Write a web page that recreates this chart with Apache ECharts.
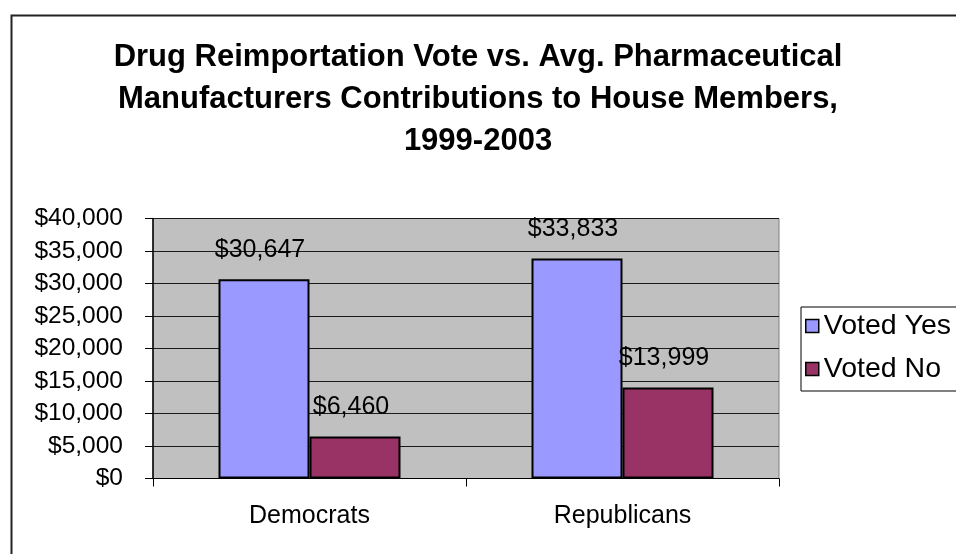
<!DOCTYPE html>
<html>
<head>
<meta charset="utf-8">
<script src="https://cdn.jsdelivr.net/npm/echarts@6/dist/echarts.min.js"></script>
<style>
html,body{margin:0;padding:0;background:#fff;}
#chart{width:956px;height:554px;}
</style>
</head>
<body>
<div id="chart"></div>
<script>
const titleText = "Drug Reimportation Vote vs. Avg. Pharmaceutical\nManufacturers Contributions to House Members,\n1999-2003";
const categories = ["Democrats", "Republicans"];
const seriesNames = ["Voted Yes", "Voted No"];
const votedYes = [30647, 33833];
const votedNo = [6460, 13999];
const yTicks = [0, 5000, 10000, 15000, 20000, 25000, 30000, 35000, 40000];

const FONT = '"Liberation Sans", Arial, sans-serif';
const money = v => '$' + Math.round(v).toString().replace(/\B(?=(\d{3})+(?!\d))/g, ',');

const chart = echarts.init(document.getElementById('chart'), null, {renderer: 'canvas'});
const labelCfg = {
  show: true, position: 'top', distance: 17, offset: [-4, 0],
  fontFamily: FONT, fontSize: 25, color: '#000',
  formatter: p => money(p.value)
};
chart.setOption({
  animation: false,
  backgroundColor: '#fff',
  textStyle: {fontFamily: FONT},
  graphic: [{
    type: 'rect', left: 9, top: 13, z: -10,
    shape: {x: 0, y: 0, width: 1000, height: 600},
    style: {fill: 'none', stroke: '#222', lineWidth: 2}
  }],
  title: {
    text: titleText, left: 'center', top: 31,
    textStyle: {fontFamily: FONT, fontSize: 31, fontWeight: 'bold', color: '#000', lineHeight: 42, align: 'center'}
  },
  legend: {
    orient: 'vertical', left: 801, top: 307,
    data: seriesNames,
    padding: [4, 40, 7, 4],
    itemGap: 13,
    itemWidth: 13, itemHeight: 13,
    icon: 'rect',
    borderColor: '#000', borderWidth: 1,
    itemStyle: {borderColor: '#000', borderWidth: 1.5},
    textStyle: {fontFamily: FONT, fontSize: 28.5, color: '#000', lineHeight: 30, padding: [0, 0, 0, 0]}
  },
  grid: {
    left: 153, top: 218.5, width: 626, height: 260,
    show: true, backgroundColor: '#C0C0C0', borderColor: '#808080', borderWidth: 1
  },
  xAxis: {
    type: 'category', data: categories,
    axisLine: {show: true, lineStyle: {color: '#000', width: 1}},
    axisTick: {show: true, length: 8, alignWithLabel: false, lineStyle: {color: '#000'}},
    axisLabel: {fontFamily: FONT, fontSize: 25, color: '#000', margin: 25},
    splitLine: {show: false}
  },
  yAxis: {
    type: 'value', min: 0, max: 40000, interval: 5000,
    axisLine: {show: true, lineStyle: {color: '#000', width: 1.5}},
    axisTick: {show: true, length: 8, lineStyle: {color: '#000'}},
    axisLabel: {fontFamily: FONT, fontSize: 24.5, color: '#000', margin: 30, formatter: v => money(v)},
    splitLine: {show: true, lineStyle: {color: '#1a1a1a', width: 1}}
  },
  series: [
    {
      name: seriesNames[0], type: 'bar', data: votedYes,
      barWidth: 91, barGap: '0%',
      itemStyle: {color: '#9999FF', borderColor: '#000', borderWidth: 2},
      label: labelCfg
    },
    {
      name: seriesNames[1], type: 'bar', data: votedNo,
      barWidth: 91, barGap: '0%',
      itemStyle: {color: '#993366', borderColor: '#000', borderWidth: 2},
      label: labelCfg
    }
  ]
});
</script>
</body>
</html>
